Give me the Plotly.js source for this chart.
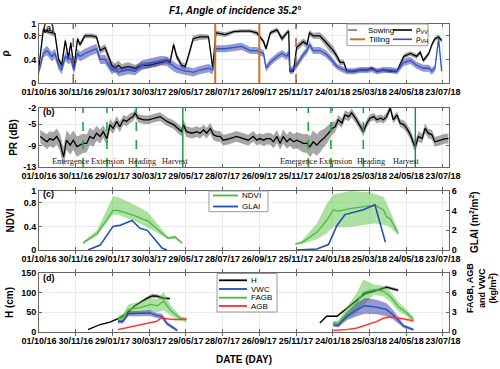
<!DOCTYPE html>
<html>
<head>
<meta charset="utf-8">
<script src="https://cdn.plot.ly/plotly-3.0.1.min.js"></script>
<style>html,body{margin:0;padding:0;background:#fff}#plot{width:500px;height:369px}</style>
</head>
<body>
<div id="plot"></div>
<script>
// all x values are days after 01/10/2016
// (a) backscatter ratios
var rhoDays = [0,7,13,21,26,32,37,43,48,52,57,63,67,75,86,94,100,108,113,119,124,130,135,146,157,168,179,190,200,209,214,220,225,233,239,244,252,263,277,284,289,304,318,331,345,356,367,371,378,389,397,405,408,410,416,421,432,438,442,448,459,468,476,481,487,492,498,503,514,525,536,544,552,563,574,585,596,607,617,623,628,637,642,647,653,658];
var rhoVV = [0.28,0.9,0.87,0.85,0.84,0.4,0.3,0.72,0.42,0.68,0.25,0.75,0.65,0.8,0.8,0.78,0.55,0.6,0.45,0.3,0.25,0.3,0.25,0.28,0.25,0.3,0.3,0.32,0.35,0.38,0.35,0.65,0.45,0.3,0.28,0.45,0.75,0.78,0.78,0.25,0.85,0.82,0.87,0.88,0.88,0.85,0.7,0.58,0.85,0.9,0.75,0.85,0.88,0.2,0.2,0.6,0.7,0.65,0.85,0.8,0.8,0.7,0.6,0.55,0.45,0.35,0.35,0.2,0.2,0.22,0.22,0.25,0.2,0.22,0.2,0.2,0.45,0.5,0.45,0.52,0.38,0.5,0.65,0.75,0.78,0.72];
var rhoVVsd = [0.04,0.04,0.04,0.04,0.05,0.05,0.05,0.05,0.05,0.05,0.04,0.05,0.05,0.04,0.04,0.04,0.06,0.06,0.07,0.07,0.08,0.08,0.07,0.07,0.06,0.06,0.05,0.05,0.05,0.05,0.05,0.06,0.06,0.05,0.05,0.06,0.05,0.05,0.04,0.04,0.04,0.04,0.03,0.03,0.03,0.04,0.04,0.05,0.04,0.04,0.05,0.04,0.04,0.04,0.05,0.06,0.06,0.06,0.05,0.05,0.06,0.07,0.08,0.07,0.06,0.05,0.04,0.03,0.03,0.03,0.03,0.03,0.03,0.03,0.03,0.03,0.04,0.04,0.04,0.04,0.04,0.04,0.04,0.04,0.04,0.04];
var rhoVH = [0.2,0.5,0.55,0.45,0.5,0.3,0.22,0.45,0.4,0.42,0.22,0.5,0.45,0.5,0.55,0.58,0.4,0.4,0.32,0.22,0.25,0.18,0.2,0.22,0.2,0.3,0.33,0.35,0.38,0.37,0.33,0.28,0.25,0.22,0.2,0.2,0.18,0.22,0.25,0.22,0.58,0.58,0.6,0.62,0.55,0.55,0.5,0.25,0.35,0.45,0.5,0.45,0.52,0.2,0.25,0.3,0.48,0.55,0.65,0.55,0.55,0.5,0.42,0.35,0.28,0.25,0.22,0.2,0.2,0.22,0.22,0.23,0.2,0.22,0.22,0.2,0.35,0.38,0.3,0.27,0.25,0.25,0.2,0.25,0.75,0.2];
var rhoVHsd = [0.06,0.07,0.08,0.08,0.08,0.08,0.07,0.08,0.08,0.08,0.07,0.08,0.08,0.08,0.08,0.08,0.08,0.08,0.08,0.07,0.07,0.07,0.07,0.07,0.07,0.08,0.08,0.08,0.08,0.08,0.08,0.08,0.08,0.07,0.07,0.07,0.07,0.07,0.07,0.07,0.06,0.06,0.06,0.06,0.06,0.06,0.06,0.06,0.06,0.06,0.06,0.06,0.06,0.05,0.05,0.06,0.06,0.06,0.06,0.06,0.06,0.06,0.06,0.06,0.05,0.05,0.05,0.05,0.05,0.05,0.05,0.05,0.05,0.05,0.05,0.05,0.06,0.06,0.06,0.06,0.06,0.06,0.06,0.05,0.05,0.05];
var sowingDays = [56, 420];
var tillingDays = [288, 360];

// (b) polarisation ratio
var prDays = [2,7,13,18,23,29,34,40,45,51,56,62,67,72,78,83,89,94,100,105,111,116,121,127,132,138,143,149,154,157,162,171,179,187,198,209,220,230,233,236,241,250,258,263,269,274,280,285,291,296,301,312,323,334,342,350,356,361,367,372,378,383,389,394,399,405,410,416,421,427,432,438,443,448,454,459,465,473,479,484,489,495,500,506,511,517,522,530,536,541,547,552,558,563,568,574,579,585,590,596,601,607,612,615,620,626,631,636,642,647,656,664,669];
var pr = [-7.3,-7.7,-8.3,-7.7,-8,-7.3,-8.3,-11.1,-8,-8.9,-8,-9.2,-8.9,-8.6,-8.6,-7.3,-7.7,-6.7,-7.3,-6.4,-7.7,-5.1,-5.8,-4.5,-5.5,-4.2,-4.5,-3.9,-3.6,-2.9,-3.9,-4.2,-4.2,-3.9,-3.6,-4.5,-5.1,-6.1,-6.4,-5.1,-6.4,-6.7,-6.4,-6.7,-6.1,-6.7,-5.8,-7,-7.3,-7.3,-8,-7.7,-7.3,-7.7,-8,-7.3,-8,-7.7,-8,-7.7,-7.7,-8.3,-7.3,-8.6,-7.3,-8.3,-7.7,-8.3,-8,-8.3,-8.6,-8.6,-9.2,-8.3,-8.9,-8.3,-7.7,-6.7,-5.8,-5.5,-4.2,-4.8,-3.3,-3.6,-2.9,-3.9,-4.8,-6.4,-4.8,-3.9,-3.6,-4.2,-3.9,-4.2,-3.6,-2,-4.2,-3.3,-4.8,-5.1,-5.8,-7,-8.6,-9.2,-7.3,-7.7,-5.8,-6.7,-7,-8.3,-8,-7.7,-7.7];
var prSd = [1.2,1.3,1.4,1.4,1.5,1.5,1.6,1.8,1.8,1.8,1.8,1.9,1.9,1.8,1.7,1.6,1.5,1.4,1.3,1.2,1.2,1.1,1.0,1.0,1.0,0.9,0.9,0.9,0.8,0.8,0.8,0.8,0.8,0.8,0.8,0.8,0.8,0.9,0.9,0.9,1.0,1.0,1.0,1.0,1.0,1.0,1.0,1.0,1.0,1.0,1.0,1.0,1.0,1.0,1.0,1.0,1.0,1.0,1.1,1.1,1.1,1.2,1.2,1.2,1.3,1.3,1.4,1.4,1.5,1.6,1.7,1.8,2.0,2.1,2.0,2.0,1.8,1.5,1.2,1.0,0.9,0.9,0.9,0.8,0.8,0.8,0.8,0.9,0.8,0.7,0.7,0.7,0.7,0.7,0.7,0.7,0.7,0.7,0.7,0.8,0.8,0.9,1.0,1.0,1.0,0.9,0.9,0.9,0.9,0.9,0.9,0.9,0.9];
var stageNames = ['Emergence', 'Extension', 'Heading', 'Harvest'];
var stageDays1 = [72, 111, 159, 235];
var stageDays2 = [440, 477, 530, 615];
var stageLabelDays1 = [51, 113, 168, 222];
var stageLabelDays2 = [424, 485, 543, 600];

// (c) NDVI and GLAI
var ndviDays1 = [72,95,121,129,154,178,211,222,234];
var ndvi1 = [0.12,0.28,0.67,0.67,0.59,0.49,0.2,0.22,0.12];
var ndviHi1 = [0.14,0.34,0.91,0.9,0.78,0.64,0.22,0.25,0.13];
var ndviLo1 = [0.1,0.24,0.6,0.6,0.5,0.38,0.18,0.19,0.1];
var ndviDays2 = [419,430,454,470,481,489,508,541,549,563,568,574,587];
var ndvi2 = [0.1,0.13,0.3,0.5,0.68,0.66,0.7,0.75,0.76,0.68,0.56,0.53,0.28];
var ndviHi2 = [0.11,0.16,0.45,0.78,0.94,0.96,1.0,0.98,0.95,0.9,0.8,0.65,0.33];
var ndviLo2 = [0.09,0.1,0.18,0.28,0.39,0.39,0.39,0.44,0.45,0.43,0.42,0.38,0.25];
var glaiDays1 = [80,100,121,132,152,165,177,190,201,209];
var glai1 = [0,0.5,2.4,2.5,3.0,2.2,2.0,1.0,0.2,0];
var glaiDays2 = [421,454,473,487,500,530,549,566];
var glai2 = [0,0.1,0.55,2.5,3.6,4.1,4.6,0.8];

// (d) height and biomass
var hDays1 = [80,100,116,132,144,157,177,185,193,203,214];
var h1 = [6,19,25,36,48,67,86,92,91,86,85];
var hSd1 = [1,1,1,1.5,2,2.5,4,5,5,4,3];
var hDays2 = [459,470,487,503,519,533,552,568,587];
var h2 = [23,40,40,60,80,98,106,114,106];
var hSd2 = [1.5,2,2,3,3,4,4,4,4];
var vwcDays1 = [129,137,146,165,181,193,201,209,226];
var vwc1 = [1.6,1.6,2.8,2.8,2.9,2.5,2.4,1.3,0.25];
var vwcSd1 = [0.3,0.3,0.4,0.4,0.45,0.4,0.4,0.3,0.2];
var vwcDays2 = [481,489,503,519,533,552,568,579,596,612];
var vwc2 = [1.1,1.0,2.4,3.4,4.0,3.8,3.4,2.6,0.9,0.35];
var vwcSd2 = [0.3,0.3,0.6,1.0,1.2,1.1,1.0,0.7,0.3,0.2];
var fagbDays1 = [129,137,146,165,183,193,204,214,230,241];
var fagb1 = [2.0,2.2,3.4,3.7,4.2,4.0,4.7,3.4,2.1,1.8];
var fagbSd1 = [0.5,0.6,0.8,0.9,1.0,1.0,1.4,0.8,0.4,0.3];
var fagbDays2 = [481,489,503,519,530,547,563,574,587,601,612];
var fagb2 = [1.4,1.4,2.9,4.4,6.0,6.5,6.2,5.4,3.9,2.9,1.9];
var fagbSd2 = [0.3,0.3,0.9,1.5,2.0,0.8,0.8,0.8,0.7,0.5,0.4];
var agbDays1 = [129,154,176,192,201,209,225,241];
var agb1 = [0.35,0.9,1.3,1.6,2.2,2.0,1.9,2.0];
var agbSd1 = [0.1,0.1,0.15,0.15,0.2,0.2,0.2,0.2];
var agbDays2 = [481,503,519,536,552,563,574,596,612];
var agb2 = [0.25,0.36,0.6,1.1,1.6,2.1,2.3,2.0,1.7];
var agbSd2 = [0.1,0.1,0.15,0.2,0.2,0.2,0.2,0.2,0.2];

var ticksA = [0, 0.4, 0.8, 1];
var ticksB = [-13, -9, -5, -2];
var ticksC = [0, 0.4, 0.8, 1];
var ticksCR = [0, 2, 4, 6];
var ticksD = [0, 50, 100, 150];
var ticksDR = [0, 3, 6, 9];

var T0 = Date.UTC(2016, 9, 1);
function toDate(d) { return new Date(T0 + d * 864e5).toISOString().slice(0, 10); }
function dates(a) { return a.map(toDate); }
function shift(v, s, k) { return v.map(function (x, i) { return x + k * s[i]; }); }

function line(days, vals, color, width, xa, ya) {
  return {x: dates(days), y: vals, type: 'scatter', mode: 'lines', line: {color: color, width: width},
          xaxis: xa, yaxis: ya, showlegend: false, hoverinfo: 'skip'};
}
function band(days, hi, lo, color, xa, ya) {
  var d = dates(days);
  return {x: d.concat(d.slice().reverse()), y: hi.concat(lo.slice().reverse()), type: 'scatter', mode: 'lines',
          fill: 'toself', fillcolor: color, line: {width: 0}, xaxis: xa, yaxis: ya, showlegend: false, hoverinfo: 'skip'};
}
function sdBand(days, v, s, color, xa, ya) { return band(days, shift(v, s, 1), shift(v, s, -1), color, xa, ya); }

var BLUE = '#2f56c4', GREEN = '#4cb944', RED = '#ff2b2b';
var GRAYF = 'rgba(0,0,0,0.35)', BLUEF = 'rgba(50,50,170,0.5)', GREENF = 'rgba(90,195,70,0.5)', REDF = 'rgba(255,90,90,0.3)';

var data = [
  sdBand(rhoDays, rhoVV, rhoVVsd, GRAYF, 'x', 'y'),
  line(rhoDays, rhoVV, '#000', 1.3, 'x', 'y'),
  sdBand(rhoDays, rhoVH, rhoVHsd, BLUEF, 'x', 'y'),
  line(rhoDays, rhoVH, BLUE, 1.3, 'x', 'y'),

  sdBand(prDays, pr, prSd, GRAYF, 'x2', 'y2'),
  line(prDays, pr, '#000', 1.3, 'x2', 'y2'),

  band(ndviDays1, ndviHi1, ndviLo1, GREENF, 'x3', 'y3'),
  band(ndviDays2, ndviHi2, ndviLo2, GREENF, 'x3', 'y3'),
  line(ndviDays1, ndvi1, GREEN, 1.3, 'x3', 'y3'),
  line(ndviDays2, ndvi2, GREEN, 1.3, 'x3', 'y3'),
  line(glaiDays1, glai1, '#1f4fb4', 1.6, 'x3', 'y5'),
  line(glaiDays2, glai2, '#1f4fb4', 1.6, 'x3', 'y5'),

  sdBand(fagbDays1, fagb1, fagbSd1, GREENF, 'x4', 'y6'),
  sdBand(fagbDays2, fagb2, fagbSd2, GREENF, 'x4', 'y6'),
  sdBand(vwcDays1, vwc1, vwcSd1, BLUEF, 'x4', 'y6'),
  sdBand(vwcDays2, vwc2, vwcSd2, BLUEF, 'x4', 'y6'),
  sdBand(agbDays1, agb1, agbSd1, REDF, 'x4', 'y6'),
  sdBand(agbDays2, agb2, agbSd2, REDF, 'x4', 'y6'),
  sdBand(hDays1, h1, hSd1, GRAYF, 'x4', 'y4'),
  sdBand(hDays2, h2, hSd2, GRAYF, 'x4', 'y4'),
  line(fagbDays1, fagb1, GREEN, 1.3, 'x4', 'y6'),
  line(fagbDays2, fagb2, GREEN, 1.3, 'x4', 'y6'),
  line(vwcDays1, vwc1, '#1f4fb4', 1.3, 'x4', 'y6'),
  line(vwcDays2, vwc2, '#1f4fb4', 1.3, 'x4', 'y6'),
  line(agbDays1, agb1, RED, 1.3, 'x4', 'y6'),
  line(agbDays2, agb2, RED, 1.3, 'x4', 'y6'),
  line(hDays1, h1, '#000', 1.3, 'x4', 'y4'),
  line(hDays2, h2, '#000', 1.3, 'x4', 'y4')
];

var AX = '#666', GRID = '#ebebeb';
var FONT = 'Liberation Sans, Arial, sans-serif';
var tickFont = {family: FONT, size: 9, color: '#000', weight: 'bold'};
var titleFont = {family: FONT, size: 10, color: '#000', weight: 'bold'};

function xAx(anchor) {
  return {anchor: anchor, type: 'date', range: [toDate(0), toDate(670)], tick0: toDate(0), dtick: 60 * 864e5,
          tickformat: '%d/%m/%y', tickangle: 0, ticks: 'inside', ticklen: 3, tickcolor: AX, showline: true, linecolor: AX,
          mirror: 'allticks', showgrid: true, gridcolor: GRID, zeroline: false, tickfont: tickFont};
}
function yAx(domain, range, vals, title, standoff, mirror) {
  return {domain: domain, range: range, tickvals: vals, ticktext: vals.map(String), ticks: 'inside', ticklen: 3,
          tickcolor: AX, showline: true, linecolor: AX, mirror: mirror, showgrid: true, gridcolor: GRID,
          zeroline: false, tickfont: tickFont, title: {text: title, font: titleFont, standoff: standoff}};
}

// pixel helpers for the hand-made legend boxes
function px(x) { return (x - 39) / 410; }
function py(y) { return 1 - y / 369; }

var shapes = [];
function vlines(days, xa, color, width, dash) {
  days.forEach(function (d) {
    shapes.push({type: 'line', xref: xa, yref: (xa === 'x' ? 'y' : 'y2') + ' domain', x0: toDate(d), x1: toDate(d),
                 y0: 0, y1: 1, line: {color: color, width: width, dash: dash}});
  });
}
vlines(sowingDays, 'x', '#a0522d', 1.4, 'dash');
vlines(tillingDays, 'x', '#c8742c', 2, 'solid');
vlines([stageDays1[0], stageDays2[0], stageDays1[1], stageDays2[1], stageDays1[2], stageDays2[2]], 'x2', '#1fa83a', 1.6, 'dash');
vlines([stageDays1[3], stageDays2[3]], 'x2', '#1f8a3a', 1.4, 'solid');

var annotations = [];
function box(x0, y0, x1, y1) {
  shapes.push({type: 'rect', xref: 'paper', yref: 'paper', x0: px(x0), x1: px(x1), y0: py(y1), y1: py(y0),
               fillcolor: '#fff', line: {color: '#999', width: 1}});
}
function key(x0, x1, y, color, width, dash, text) {
  shapes.push({type: 'line', xref: 'paper', yref: 'paper', x0: px(x0), x1: px(x1), y0: py(y), y1: py(y),
               line: {color: color, width: width, dash: dash}});
  annotations.push({xref: 'paper', yref: 'paper', x: px(x1 + 2), y: py(y), xanchor: 'left', yanchor: 'middle',
                    text: text, showarrow: false, font: {family: FONT, size: 8, color: '#000'}});
}
box(347, 24, 428, 45.7);
key(348, 364, 30, '#a0522d', 1.4, 'dash', 'Sowing');
key(350, 365, 39.3, '#c8742c', 2, 'solid', 'Tilling');
key(393, 412, 30, '#000', 1.6, 'solid', 'ρ<sub>VV</sub>');
key(393, 412, 39.3, BLUE, 1.6, 'solid', 'ρ<sub>VH</sub>');
box(209, 191, 268, 211.7);
key(213, 238, 195.5, GREEN, 1.8, 'solid', 'NDVI');
key(213, 238, 206.5, '#1f4fb4', 1.8, 'solid', 'GLAI');
box(217, 273.5, 277, 312);
key(219, 247, 280.3, '#000', 1.8, 'solid', 'H');
key(219, 247, 289, '#1f4fb4', 1.8, 'solid', 'VWC');
key(219, 247, 297.7, GREEN, 1.8, 'solid', 'FAGB');
key(219, 247, 306, RED, 1.8, 'solid', 'AGB');

[['(a)', 27.5], ['(b)', 112], ['(c)', 194], ['(d)', 277.5]].forEach(function (p) {
  annotations.push({xref: 'paper', yref: 'paper', x: px(41), y: py(p[1]), xanchor: 'left', yanchor: 'middle',
                    text: p[0], showarrow: false, font: {family: FONT, size: 9, color: '#000', weight: 'bold'}});
});
stageNames.forEach(function (n, i) {
  [stageLabelDays1[i], stageLabelDays2[i]].forEach(function (d) {
    annotations.push({xref: 'x2', yref: 'y2', x: toDate(d), y: -12.0, text: n, showarrow: false, xanchor: 'center',
                      yanchor: 'middle', font: {family: 'Liberation Serif, Times New Roman, serif', size: 8.3, color: '#222'}});
  });
});
// right-hand axis titles
annotations.push({xref: 'paper', yref: 'paper', x: px(474), y: py(222), textangle: -90, showarrow: false,
                  xanchor: 'center', yanchor: 'middle', text: 'GLAI (m<sup>2</sup>/m<sup>2</sup>)', font: titleFont});
annotations.push({xref: 'paper', yref: 'paper', x: px(481), y: py(288), textangle: -90, showarrow: false,
                  xanchor: 'center', yanchor: 'middle', text: 'FAGB, AGB<br>and VWC<br>(kg/m<sup>2</sup>)',
                  font: {family: FONT, size: 9, color: '#000', weight: 'bold'}});

var layout = {
  width: 500, height: 369, margin: {l: 39, r: 51, t: 0, b: 0},
  paper_bgcolor: '#fff', plot_bgcolor: '#fff', showlegend: false,
  font: {family: FONT, color: '#000'},
  title: {text: 'F1, Angle of incidence 35.2°', font: {family: FONT, size: 10, weight: 'bold', style: 'italic', color: '#000'},
          x: 235 / 500, xref: 'container', xanchor: 'center', y: 1 - 10 / 369, yref: 'container', yanchor: 'middle'},
  xaxis: xAx('y'), xaxis2: xAx('y2'), xaxis3: xAx('y3'), xaxis4: xAx('y4'),
  yaxis: yAx([0.7751, 0.9350], [0, 1], ticksA, 'ρ', 12, 'ticks'),
  yaxis2: yAx([0.5474, 0.7073], [-13, -2], ticksB, 'PR (dB)', 3, 'ticks'),
  yaxis3: yAx([0.3225, 0.4824], [0, 1], ticksC, 'NDVI', 7, false),
  yaxis4: yAx([0.1003, 0.2602], [0, 150], ticksD, 'H (cm)', 5, false),
  shapes: shapes, annotations: annotations
};
layout.xaxis4.title = {text: 'DATE (DAY)', font: titleFont, standoff: 11};
layout.yaxis5 = yAx([0.3225, 0.4824], [0, 6], ticksCR, '', 0, false);
layout.yaxis5.overlaying = 'y3'; layout.yaxis5.side = 'right'; layout.yaxis5.anchor = 'x3'; layout.yaxis5.showgrid = false;
layout.yaxis6 = yAx([0.1003, 0.2602], [0, 9], ticksDR, '', 0, false);
layout.yaxis6.overlaying = 'y4'; layout.yaxis6.side = 'right'; layout.yaxis6.anchor = 'x4'; layout.yaxis6.showgrid = false;

Plotly.newPlot('plot', data, layout, {displayModeBar: false, responsive: false});
</script>
</body>
</html>
